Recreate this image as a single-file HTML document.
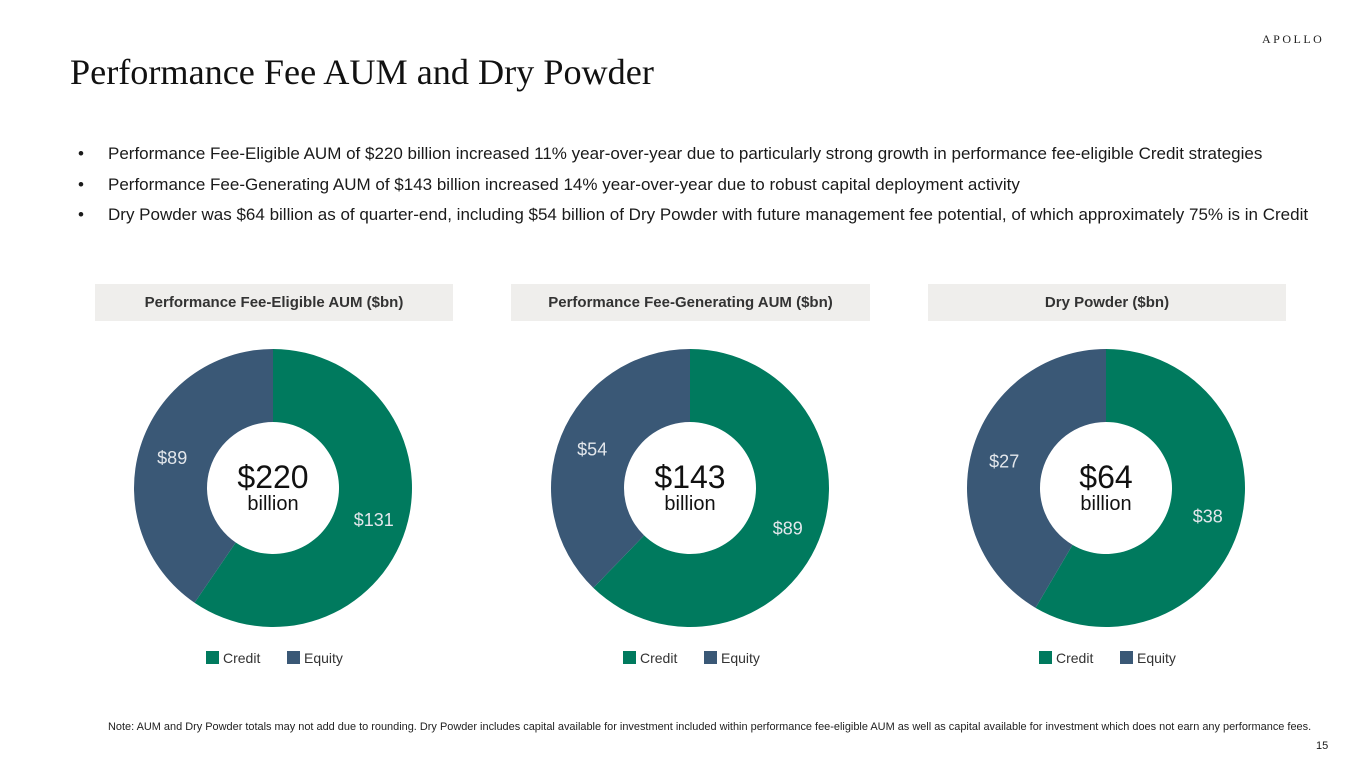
<!DOCTYPE html>
<html><head><meta charset="utf-8">
<style>
body{margin:0;width:1365px;height:768px;background:#fff;position:relative;overflow:hidden;font-family:"Liberation Sans",sans-serif;color:#1a1a1a}
.abs{position:absolute}
.title{left:70px;top:51px;font-family:"Liberation Serif",serif;font-size:36.2px;color:#111;white-space:nowrap}
.logo{left:1262px;top:32px;font-family:"Liberation Serif",serif;font-size:12px;letter-spacing:2.5px;color:#222}
.bullet{left:78px;font-size:17px;white-space:nowrap}
.bullet span{position:absolute;left:30px}
.hdr{top:284px;height:37px;width:358px;background:#efeeec;font-weight:bold;font-size:15px;text-align:center;line-height:37px;color:#333}
.note{left:108px;top:721px;font-size:10.95px;white-space:nowrap;color:#222}
.pg{left:1316px;top:740px;font-size:11px}
</style></head><body>
<div class="abs logo">APOLLO</div>
<div class="abs title">Performance Fee AUM and Dry Powder</div>
<div class="abs bullet" style="top:144px">•<span>Performance Fee-Eligible AUM of $220 billion increased 11% year-over-year due to particularly strong growth in performance fee-eligible Credit strategies</span></div>
<div class="abs bullet" style="top:175px">•<span>Performance Fee-Generating AUM of $143 billion increased 14% year-over-year due to robust capital deployment activity</span></div>
<div class="abs bullet" style="top:205px">•<span>Dry Powder was $64 billion as of quarter-end, including $54 billion of Dry Powder with future management fee potential, of which approximately 75% is in Credit</span></div>
<div class="abs hdr" style="left:95px">Performance Fee-Eligible AUM ($bn)</div>
<div class="abs hdr" style="left:511px;width:359px">Performance Fee-Generating AUM ($bn)</div>
<div class="abs hdr" style="left:928px">Dry Powder ($bn)</div>
<svg class="abs" id="charts" style="left:0;top:0" width="1365" height="768"></svg>
<div class="abs note">Note: AUM and Dry Powder totals may not add due to rounding. Dry Powder includes capital available for investment included within performance fee-eligible AUM as well as capital available for investment which does not earn any performance fees.</div>
<div class="abs pg">15</div>
<script>
const chartNames=["fee-eligible","fee-generating","dry-powder"];
const creditValues=[131,89,38];
const equityValues=[89,54,27];
const totalLabels=["$220","$143","$64"];
const seriesNames=["Credit","Equity"];
const colors=["#007a5e","#3a5876"];
const centers=[273,690,1106];
const cy=488,R=139,r=66;
const NS="http://www.w3.org/2000/svg";
const svg=document.getElementById('charts');
function mk(tag,attrs){const e=document.createElementNS(NS,tag);for(const k in attrs)e.setAttribute(k,attrs[k]);svg.appendChild(e);return e;}
function pt(cx,ang,rad){return [cx+rad*Math.sin(ang),cy-rad*Math.cos(ang)];}
function arc(cx,a0,a1){
  const [x0,y0]=pt(cx,a0,R),[x1,y1]=pt(cx,a1,R),[x2,y2]=pt(cx,a1,r),[x3,y3]=pt(cx,a0,r);
  const lg=(a1-a0)>Math.PI?1:0;
  return `M${x0},${y0}A${R},${R} 0 ${lg} 1 ${x1},${y1}L${x2},${y2}A${r},${r} 0 ${lg} 0 ${x3},${y3}Z`;
}
centers.forEach((cx,i)=>{
  const vals=[creditValues[i],equityValues[i]];
  const tot=vals[0]+vals[1];
  let a=0;
  vals.forEach((v,j)=>{
    const a1=a+v/tot*2*Math.PI;
    const p=mk('path',{d:arc(cx,a,a1),fill:colors[j]});
    
    
    const mid=(a+a1)/2;
    const [lx,ly]=pt(cx,mid,(R+r)/2+3);
    const t=mk('text',{x:lx,y:ly+7,'text-anchor':'middle','font-size':18,fill:'#e3e7ec','font-family':'Liberation Sans, sans-serif'});
    t.textContent='$'+v;
    
    
    a=a1;
  });
  const t1=mk('text',{x:cx,y:488,'text-anchor':'middle','font-size':32,fill:'#111','font-family':'Liberation Sans, sans-serif'});
  t1.textContent=totalLabels[i];
  
  
  const t2=mk('text',{x:cx,y:510,'text-anchor':'middle','font-size':20,fill:'#111','font-family':'Liberation Sans, sans-serif'});
  t2.textContent='billion';
  
  
  const lx0=cx-67;
  seriesNames.forEach((s,j)=>{
    const x=lx0+j*81;
    const sq=mk('rect',{x:x,y:651,width:13,height:13,fill:colors[j]});
    
    
    const lt=mk('text',{x:x+17,y:663,'font-size':14,fill:'#333','font-family':'Liberation Sans, sans-serif'});
    lt.textContent=s;
    
    
  });
});
</script>
</body></html>
